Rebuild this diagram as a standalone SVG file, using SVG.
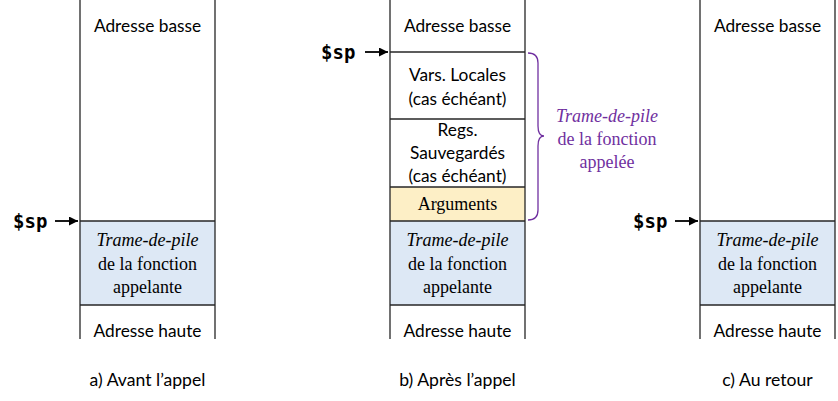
<svg xmlns="http://www.w3.org/2000/svg" width="838" height="401" viewBox="0 0 838 401">
<style>
.ln{stroke:#262626;stroke-width:1.3;fill:none}
.sans{font-family:Lato,"Open Sans","Liberation Sans",sans-serif;font-size:17.3px;fill:#000;text-anchor:middle}
.cap{font-size:17.6px}
.ser{font-family:"Liberation Serif",serif;font-size:18px;fill:#000;text-anchor:middle}
.it{font-style:italic}
.sp{font-family:"DejaVu Sans Mono","Liberation Mono",monospace;font-weight:bold;font-size:19px;fill:#000}
.pur{fill:#7030a0}
.blue{fill:#dde8f5}
.yel{fill:#fdefc6}
</style>
<defs>
<marker id="ah" viewBox="0 0 10 10" refX="10" refY="5" markerWidth="9" markerHeight="9" markerUnits="userSpaceOnUse" orient="auto">
<path d="M0,0 L10,5 L0,10 z" fill="#000"/>
</marker>
</defs>

<g id="stack-a">
<rect class="blue" x="80" y="221" width="135" height="84"/>
<line class="ln" x1="80" y1="0" x2="80" y2="339"/>
<line class="ln" x1="215" y1="0" x2="215" y2="339"/>
<line class="ln" x1="80" y1="221" x2="215" y2="221"/>
<line class="ln" x1="80" y1="305" x2="215" y2="305"/>
<text class="sans" x="147.5" y="32">Adresse basse</text>
<text class="ser it" x="147.5" y="246">Trame-de-pile</text>
<text class="ser" x="147.5" y="270">de la fonction</text>
<text class="ser" x="147.5" y="293">appelante</text>
<text class="sans" x="147.5" y="337">Adresse haute</text>
<text class="sans cap" x="147.5" y="386">a) Avant l’appel</text>
<text class="sp" x="13" y="228">$sp</text>
</g>

<g id="stack-b">
<rect class="yel" x="390" y="187" width="135" height="34"/>
<rect class="blue" x="390" y="221" width="135" height="84"/>
<line class="ln" x1="390" y1="0" x2="390" y2="339"/>
<line class="ln" x1="525" y1="0" x2="525" y2="339"/>
<line class="ln" x1="390" y1="52" x2="525" y2="52"/>
<line class="ln" x1="390" y1="119" x2="525" y2="119"/>
<line class="ln" x1="390" y1="187" x2="525" y2="187"/>
<line class="ln" x1="390" y1="221" x2="525" y2="221"/>
<line class="ln" x1="390" y1="305" x2="525" y2="305"/>
<text class="sans" x="457.5" y="32">Adresse basse</text>
<text class="sans" x="457.5" y="81">Vars. Locales</text>
<text class="sans" x="457.5" y="105">(cas échéant)</text>
<text class="sans" x="457.5" y="136">Regs.</text>
<text class="sans" x="457.5" y="159">Sauvegardés</text>
<text class="sans" x="457.5" y="182">(cas échéant)</text>
<text class="ser" x="457.5" y="210">Arguments</text>
<text class="ser it" x="457.5" y="246">Trame-de-pile</text>
<text class="ser" x="457.5" y="270">de la fonction</text>
<text class="ser" x="457.5" y="293">appelante</text>
<text class="sans" x="457.5" y="337">Adresse haute</text>
<text class="sans cap" x="457.5" y="386">b) Après l’appel</text>
<text class="sp" x="321" y="59">$sp</text>
</g>

<g id="frame-label">
<path d="M528,53 Q538,53 538,63 L538,126 Q538,136 544,136 Q538,136 538,146 L538,210 Q538,220 528,220" fill="none" stroke="#7030a0" stroke-width="1.3"/>
<text class="ser it pur" x="607" y="122">Trame-de-pile</text>
<text class="ser pur" x="607" y="145">de la fonction</text>
<text class="ser pur" x="607" y="168">appelée</text>
</g>

<g id="stack-c">
<rect class="blue" x="700" y="221" width="135" height="84"/>
<line class="ln" x1="700" y1="0" x2="700" y2="339"/>
<line class="ln" x1="835" y1="0" x2="835" y2="339"/>
<line class="ln" x1="700" y1="221" x2="835" y2="221"/>
<line class="ln" x1="700" y1="305" x2="835" y2="305"/>
<text class="sans" x="767.5" y="32">Adresse basse</text>
<text class="ser it" x="767.5" y="246">Trame-de-pile</text>
<text class="ser" x="767.5" y="270">de la fonction</text>
<text class="ser" x="767.5" y="293">appelante</text>
<text class="sans" x="767.5" y="337">Adresse haute</text>
<text class="sans cap" x="767.5" y="386">c) Au retour</text>
<text class="sp" x="633" y="228">$sp</text>
</g>

<g id="connectors">
<line x1="55" y1="221" x2="78" y2="221" stroke="#000" stroke-width="1.8" marker-end="url(#ah)"/>
<line x1="365" y1="52" x2="388" y2="52" stroke="#000" stroke-width="1.8" marker-end="url(#ah)"/>
<line x1="675" y1="221" x2="698" y2="221" stroke="#000" stroke-width="1.8" marker-end="url(#ah)"/>
</g>
</svg>
